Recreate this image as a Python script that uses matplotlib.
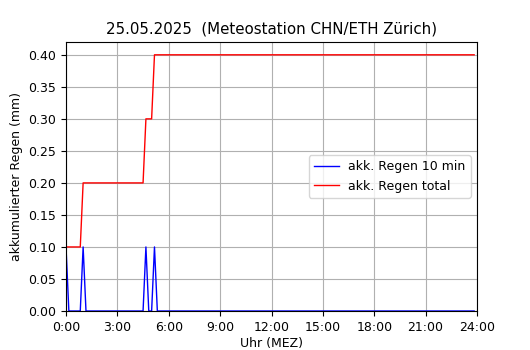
import numpy as np
from matplotlib import pyplot as plt

# 10-min Regenmengen (mm), 0:00 .. 23:50
regen_10min = np.zeros(144)
regen_10min[0] = 0.1
regen_10min[6] = 0.1
regen_10min[28] = 0.1
regen_10min[31] = 0.1
regen_total = np.cumsum(regen_10min)

stunden = np.arange(144) / 6.0
xticks = np.arange(0, 25, 3)
xlabels = ['%d:00' % h for h in xticks]

fig = plt.figure(figsize=(5.3, 3.5), dpi=100)
ax = fig.add_axes([66 / 530, 39 / 350, 411 / 530, 269 / 350])
ax.plot(stunden, regen_10min, color='blue', linewidth=1, label='akk. Regen 10 min')
ax.plot(stunden, regen_total, color='red', linewidth=1, label='akk. Regen total')
ax.set_xlim(0, 24)
ax.set_ylim(0, 0.42)
ax.set_xticks(xticks)
ax.set_xticklabels(xlabels, fontsize=9)
ax.set_yticks(np.arange(0, 0.41, 0.05))
ax.set_yticklabels(['%.2f' % v for v in np.arange(0, 0.41, 0.05)], fontsize=9)
ax.grid(True, color='#b0b0b0')
ax.set_xlabel('Uhr (MEZ)', fontsize=9, labelpad=2.5)
ax.set_ylabel('akkumulierter Regen (mm)', fontsize=9)
ax.set_title('25.05.2025  (Meteostation CHN/ETH Zürich)', fontsize=10.8)
ax.legend(loc='center right', fontsize=9)
fig.savefig('out.png')
